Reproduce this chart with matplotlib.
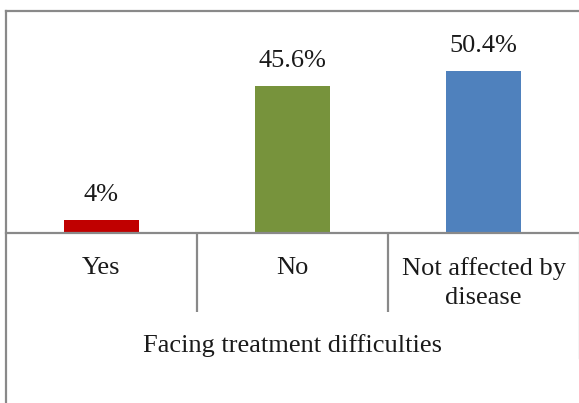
import matplotlib
matplotlib.use("Agg")
import matplotlib.pyplot as plt
from matplotlib.lines import Line2D

categories = ["Yes", "No", "Not affected by\ndisease"]
values = [4.0, 45.6, 50.4]
value_labels = ["4%", "45.6%", "50.4%"]
bar_colors = ["#C00000", "#77933C", "#4F81BD"]
axis_title = "Facing treatment difficulties"

GRID = "#898989"

plt.rcParams["font.family"] = ["Liberation Serif", "DejaVu Serif"]

W, H = 579, 403
fig = plt.figure(figsize=(W / 100, H / 100), dpi=100)


def fx(px):
    return px / W


def fy(px):
    return 1 - px / H


# plot area: baseline at y=233, categories span the full width
ax = fig.add_axes([fx(6), fy(233), fx(573), (233 - 40) / H])
x = range(len(categories))
bars = ax.bar(x, values, width=0.39, color=bar_colors)
ax.bar_label(bars, labels=value_labels, padding=10, fontsize=19, color="#1a1a1a")

ax.set_xlim(-0.5, len(categories) - 0.5)
ax.set_ylim(0, 60)
for side in ("top", "right", "left"):
    ax.spines[side].set_visible(False)
ax.spines["bottom"].set_color(GRID)
ax.spines["bottom"].set_linewidth(1.6)
ax.set_yticks([])

ax.set_xticks(list(x), categories, fontsize=19, color="#1a1a1a", linespacing=1.45)
ax.tick_params(axis="x", which="major", length=0, pad=17)
# category separators
ax.set_xticks([0.5, 1.5], minor=True)
ax.tick_params(axis="x", which="minor", length=57, width=1.6, color=GRID, direction="out")
ax.set_xlabel(axis_title, fontsize=19, color="#1a1a1a", labelpad=12)

# outer frame and right boundary of the category axis
fig.add_artist(Line2D([fx(6), fx(579)], [fy(11), fy(11)], color=GRID, lw=1.6))
fig.add_artist(Line2D([fx(6), fx(6)], [fy(11), fy(403)], color=GRID, lw=1.6))
fig.add_artist(Line2D([fx(578.5), fx(578.5)], [fy(233), fy(358)], color="#cfcfcf", lw=1.0))

fig.savefig("out.png", dpi=100)
